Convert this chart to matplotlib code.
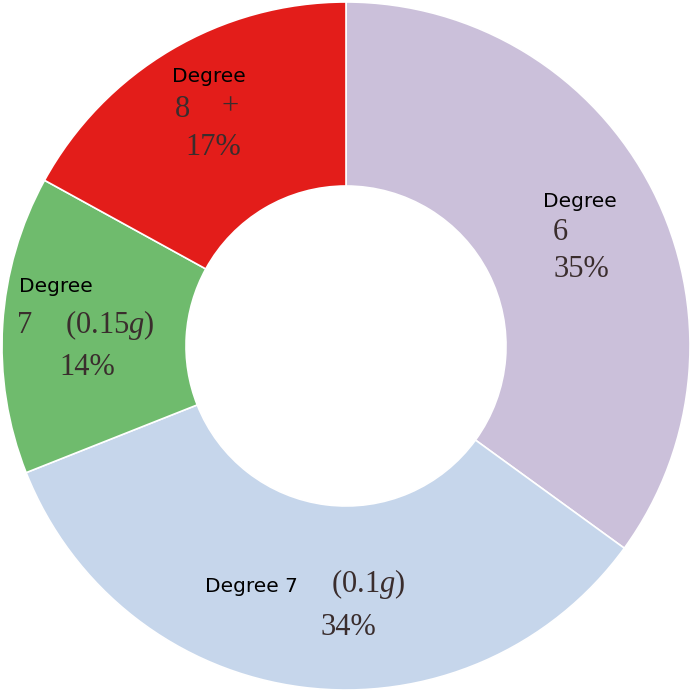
import numpy as np
import matplotlib
matplotlib.use("Agg")
from matplotlib import pyplot as plt

# data
labels = ["Degree 6", "Degree 7 (0.1g)", "Degree 7 (0.15g)", "Degree 8+"]
shares = [35, 34, 14, 17]
colors = ["#cbc0da", "#c6d6eb", "#6fbb6d", "#e31d1a"]

plt.rcParams["mathtext.fontset"] = "custom"
plt.rcParams["mathtext.rm"] = "Liberation Serif"
plt.rcParams["mathtext.it"] = "Liberation Serif:italic"

fig = plt.figure(figsize=(6.92, 6.92), dpi=100)
ax = fig.add_axes([0, 0, 1, 1])
R = 344.0

ax.pie(shares, colors=colors, startangle=90, counterclock=False, radius=1.0,
       wedgeprops=dict(width=1 - 160 / R, edgecolor="white", linewidth=1.2))

# pie resets limits, so set them afterwards
ax.set_xlim(-346 / R, 346 / R)
ax.set_ylim(-346 / R, 346 / R)
ax.set_aspect("equal")
ax.axis("off")


def px(x, y):
    # picture pixel -> data coords
    return (x - 346) / R, (346 - y) / R


sans = dict(family="DejaVu Sans", fontsize=14.5, color="black", ha="center", va="baseline")
serif = dict(family="Liberation Serif", fontsize=22, color="#3a2d2d", ha="center", va="baseline")

# Degree 8+  (positions are baselines)
ax.text(*px(209, 82), "Degree", **sans)
ax.text(*px(182, 117), "8", **serif)
ax.text(*px(230, 114), "+", **serif)
ax.text(*px(213, 155), "17%", **serif)

# Degree 6
ax.text(*px(580, 207), "Degree", **sans)
ax.text(*px(560, 240), "6", **serif)
ax.text(*px(581, 277), "35%", **serif)

# Degree 7 (0.15g)
ax.text(*px(56, 292), "Degree", **sans)
ax.text(*px(25, 333), "7", **serif)
ax.text(*px(110, 333), "(0.15$g$)", **serif)
ax.text(*px(87, 375), "14%", **serif)

# Degree 7 (0.1g)
ax.text(*px(251, 592), "Degree 7", **sans)
ax.text(*px(368, 592), "(0.1$g$)", **serif)
ax.text(*px(348, 635), "34%", **serif)

plt.savefig("out.png", dpi=100)
